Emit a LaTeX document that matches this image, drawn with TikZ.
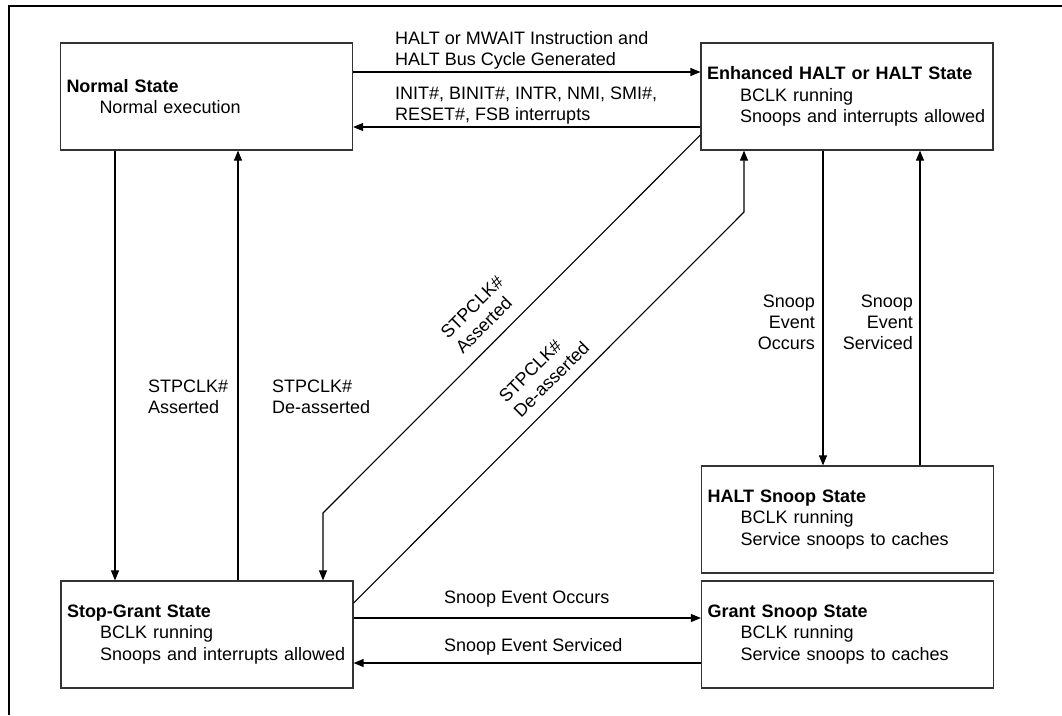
\documentclass[tikz,border=0pt]{standalone}
\usepackage{fontspec}
\setmainfont{Liberation Sans}
\usetikzlibrary{arrows.meta}

\begin{document}
\begin{tikzpicture}[x=1pt, y=-1pt,
		statebox/.style={draw=black!80, line width=1.2pt, minimum width=292pt, minimum height=107pt,
			text width=280pt, inner xsep=6pt, align=left, font=\fontsize{18}{21.5}\selectfont},
		lbl/.style={inner sep=0pt, font=\fontsize{18}{21}\selectfont},
		arr/.style={line width=1.1pt, -{Triangle[length=10pt, width=8pt]}}]
		%%%%% START %%%%%
		
		\useasboundingbox (0, 0) rectangle (1062, 715);
		\draw[line width=2.6pt] (1062, 6) -- (9, 6) -- (9, 715);
		
		\node[statebox] (normal) at (206.5, 96.5) {\textbf{Normal State}\\\hspace*{33pt}Normal execution};
		\node[statebox] (halt) at (847, 96.5) {\textbf{Enhanced HALT or HALT State}\\\hspace*{33pt}BCLK running\\\hspace*{33pt}Snoops and interrupts allowed};
		\node[statebox] (hsnoop) at (847.5, 519.5) {\textbf{HALT Snoop State}\\\hspace*{33pt}BCLK running\\\hspace*{33pt}Service snoops to caches};
		\node[statebox] (stopgrant) at (207, 634.5) {\textbf{Stop-Grant State}\\\hspace*{33pt}BCLK running\\\hspace*{33pt}Snoops and interrupts allowed};
		\node[statebox] (gsnoop) at (847.5, 634.5) {\textbf{Grant Snoop State}\\\hspace*{33pt}BCLK running\\\hspace*{33pt}Service snoops to caches};
		
		\draw[arr] (normal.east |- 0, 72) -- (halt.west |- 0, 72);
		\draw[arr] (halt.west |- 0, 127) -- (normal.east |- 0, 127);
		\node[lbl, anchor=west, align=left] (haltlbl) at (395, 50.5) {HALT or MWAIT Instruction and\\HALT Bus Cycle Generated};
		\node[lbl, anchor=west, align=left] (wakelbl) at (395, 105.5) {INIT\#, BINIT\#, INTR, NMI, SMI\#,\\RESET\#, FSB interrupts};
		
		\draw[arr] (normal.south -| 115, 0) -- (stopgrant.north -| 115, 0);
		\draw[arr] (stopgrant.north -| 238, 0) -- (normal.south -| 238, 0);
		\node[lbl, anchor=west, align=left] (assertlbl) at (148, 396.5) {STPCLK\#\\Asserted};
		\node[lbl, anchor=west, align=left] (deassertlbl) at (272, 396.5) {STPCLK\#\\De-asserted};
		
		\draw[arr] (halt.west |- 0, 135) -- (323, 513) -- (stopgrant.north -| 323, 0);
		\draw[arr] (stopgrant.east |- 0, 603) -- (744, 212) -- (halt.south -| 744, 0);
		\node[lbl, rotate=45, align=left] (diagassert) at (479.5, 314.5) {STPCLK\#\\Asserted};
		\node[lbl, rotate=45, align=left] (diagdeassert) at (544, 372) {STPCLK\#\\De-asserted};
		
		\draw[arr] (halt.south -| 823, 0) -- (hsnoop.north -| 823, 0);
		\draw[arr] (hsnoop.north -| 920, 0) -- (halt.south -| 920, 0);
		\node[lbl, anchor=east, align=right] (occurslbl) at (815, 322) {Snoop\\Event\\Occurs};
		\node[lbl, anchor=east, align=right] (servlbl) at (913, 322) {Snoop\\Event\\Serviced};
		
		\draw[arr] (stopgrant.east |- 0, 618) -- (gsnoop.west |- 0, 618);
		\draw[arr] (gsnoop.west |- 0, 663) -- (stopgrant.east |- 0, 663);
		\node[lbl, anchor=west] (gocclbl) at (444, 599) {Snoop Event Occurs};
		\node[lbl, anchor=west] (gservlbl) at (444, 647) {Snoop Event Serviced};
		
		%%%%% END %%%%%
	\end{tikzpicture}
\end{document}
